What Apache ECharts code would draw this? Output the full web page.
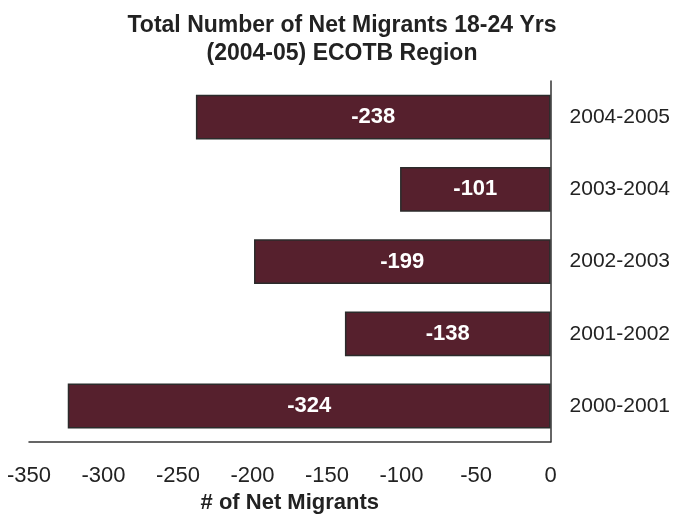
<!DOCTYPE html>
<html>
<head>
<meta charset="utf-8">
<script src="https://cdn.jsdelivr.net/npm/echarts@6/dist/echarts.min.js"></script>
<style>
  html, body { margin: 0; padding: 0; background: #fff; }
  #chart { width: 673px; height: 519px; }
</style>
</head>
<body>
<div id="chart"></div>
<script>
// School years, bottom to top
const years = ['2000-2001', '2001-2002', '2002-2003', '2003-2004', '2004-2005'];
// Net migrants aged 18-24 per year
const netMigrants = [-324, -138, -199, -101, -238];
// Value axis range
const axisMin = -350;
const axisMax = 0;
const axisStep = 50;

const chart = echarts.init(document.getElementById('chart'));
const font = '"Liberation Sans", Arial, sans-serif';

chart.setOption({
  animation: false,
  title: {
    text: 'Total Number of Net Migrants 18-24 Yrs\n(2004-05) ECOTB Region',
    left: 337,
    textAlign: 'center',
    top: 7,
    textStyle: {
      fontFamily: font,
      fontSize: 23,
      fontWeight: 'bold',
      color: '#222',
      lineHeight: 28
    }
  },
  grid: { left: 29, right: 121, top: 81, bottom: 68, containLabel: false },
  xAxis: {
    type: 'value',
    min: axisMin,
    max: axisMax,
    interval: axisStep,
    name: '# of Net Migrants',
    nameLocation: 'middle',
    nameGap: 46,
    nameTextStyle: { fontFamily: font, fontSize: 22, fontWeight: 'bold', color: '#222' },
    axisLine: { show: true, lineStyle: { color: '#333', width: 1.5 } },
    axisTick: { show: false },
    splitLine: { show: false },
    axisLabel: { fontFamily: font, fontSize: 22, color: '#222', margin: 23 }
  },
  yAxis: {
    type: 'category',
    data: years,
    position: 'right',
    axisLine: { show: true, onZero: false, lineStyle: { color: '#333', width: 1.5 } },
    axisTick: { show: false },
    axisLabel: { fontFamily: font, fontSize: 21, color: '#222', margin: 19 }
  },
  series: [{
    type: 'bar',
    data: netMigrants,
    barWidth: '62%',
    itemStyle: { color: '#56202d', borderColor: '#2b2b2b', borderWidth: 1.5 },
    label: {
      show: true,
      position: 'inside',
      fontFamily: font,
      fontSize: 22,
      fontWeight: 'bold',
      color: '#fff'
    }
  }]
});
</script>
</body>
</html>
